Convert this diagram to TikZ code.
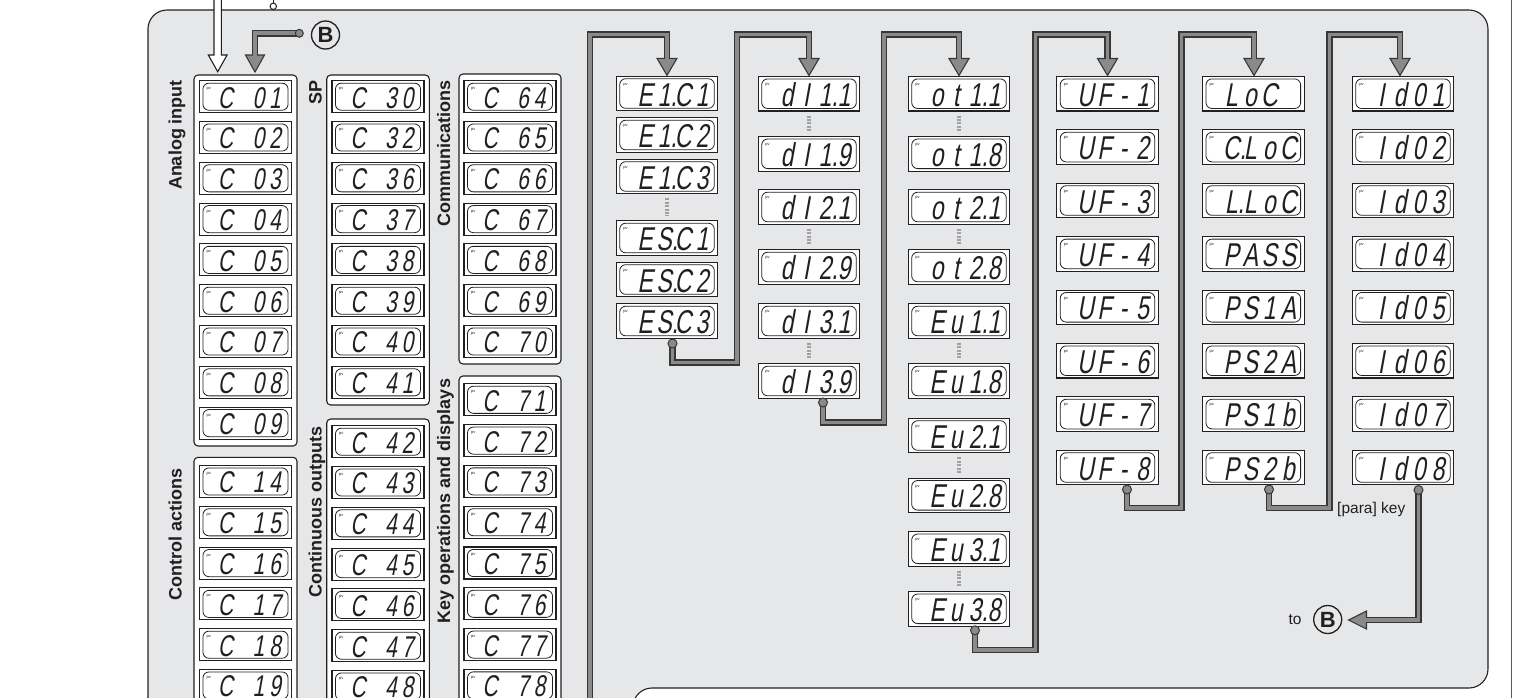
\documentclass[tikz,border=0pt]{standalone}
\usepackage{fontspec}
\setmainfont{Liberation Sans}
\newfontfamily\segfont{Liberation Sans}[FakeSlant=0.18,FakeStretch=0.7]
\definecolor{panel}{RGB}{230,231,232}
\definecolor{ink}{RGB}{35,31,32}
\definecolor{cgray}{RGB}{138,138,138}
\definecolor{cdark}{RGB}{55,55,55}
\definecolor{dotg}{RGB}{160,160,160}
\tikzset{
 outerdisp/.style={draw=ink, line width=1.1pt, fill=white, rectangle, inner sep=0pt},
 innerdisp/.style={draw=ink, line width=0.8pt, rounded corners=6pt},
 pvtext/.style={font=\fontsize{4}{4}\selectfont, inner sep=0pt, text=ink},
 segtext/.style={inner sep=0pt, text=ink},
 grpbox/.style={draw=ink, line width=1.1pt, fill=white, rounded corners=4pt},
 grplabel/.style={font=\bfseries\fontsize{18}{18}\selectfont, rotate=90, anchor=base, inner sep=0pt, text=ink},
 connout/.style={draw=cdark, line width=6.4pt, line join=miter},
 connin/.style={draw=cgray, line width=3.8pt, line join=miter},
 tipst/.style={fill=cgray, draw=cdark, line width=1.1pt, line join=miter},
 startdot/.style={circle, fill=cgray, draw=cdark, line width=1pt, minimum size=9pt, inner sep=0pt},
 ellip/.style={draw=dotg, line width=3.2pt, dash pattern=on 2pt off 1.4pt},
 bcirc/.style={circle, draw=ink, line width=1.3pt, minimum size=28pt, inner sep=0pt, font=\bfseries\fontsize{22}{22}\selectfont, text=ink},
 plaintext/.style={font=\fontsize{15.5}{15.5}\selectfont, inner sep=0pt, text=ink},
}
\newcommand\dispcore[7]{%
 \node[outerdisp, minimum width=\dW, minimum height=\dH] (#1) at (#2,#3) {};
 \draw[innerdisp] ([shift={(4pt,-3pt)}]#1.north west) rectangle ([shift={(-4pt,3pt)}]#1.south east);
 \node[pvtext, anchor=base west] (#1pv) at ([shift={(7.5pt,-9.5pt)}]#1.north west) {pv};
 \node[segtext, anchor=base, font=\segfont\fontsize{\dF}{\dF}\selectfont] (#1t) at ([shift={(\dO,-\dB)}]#1.center) {\makebox[\dP]{#4}\makebox[\dP]{#5}\makebox[\dP]{#6}\makebox[\dP]{#7}};
}
\newcommand\gd{\def\dW{92pt}\def\dH{32pt}\def\dP{16.5pt}\def\dO{4.75pt}\def\dF{30}\def\dB{11.4pt}\dispcore}
\newcommand\rd{\def\dW{101.5pt}\def\dH{34.5pt}\def\dP{19pt}\def\dO{6.5pt}\def\dF{33}\def\dB{12.5pt}\dispcore}
\newcommand\dtip[2]{\draw[tipst] (#1-10,#2-17) -- (#1,#2) -- (#1+10,#2-17) -- cycle;}
\newcommand\gconnt[2]{\draw[connout] #1; #2 \draw[connin] #1;}
\newcommand\dd[1]{#1\rlap{.}}

\begin{document}
\begin{tikzpicture}[x=1pt,y=-1pt]
\useasboundingbox (0,0) rectangle (1521,697);
\clip (0,0) rectangle (1521,697);

% panel
\draw[ink, line width=1.1pt, fill=panel, rounded corners=19pt]
  (148,740) -- (148,10) -- (1488,10) -- (1488,688) -- (633,688) -- (633,740) -- cycle;
\draw[ink!75, line width=1pt] (1511,-2) -- (1511,700);

% incoming arrows at top
\draw[ink, line width=1.1pt, fill=white] (214,-3) -- (214,55) -- (208.3,55) -- (217.7,71.7) -- (227.1,55) -- (221.3,55) -- (221.3,-3);
\draw[ink, line width=1pt] (273.3,-3) -- (273.3,3.1);
\draw[ink, line width=1pt, fill=white] (273.3,6.3) circle (3.2);

% group boxes
\draw[grpbox] (194,75) rectangle (297,446);
\draw[grpbox] (194,457.3) rectangle (297,730);
\draw[grpbox] (326.7,75) rectangle (429.3,405);
\draw[grpbox] (326.7,419) rectangle (429.3,730);
\draw[grpbox] (459,74) rectangle (561,364);
\draw[grpbox] (459,376) rectangle (561,730);

% group labels
\node[grplabel] (lAI) at (181.5,135) {Analog input};
\node[grplabel] (lCA) at (181.5,534) {Control actions};
\node[grplabel] (lSP) at (321.5,92.5) {SP};
\node[grplabel] (lCO) at (321.5,512) {Continuous outputs};
\node[grplabel] (lCM) at (450,153.5) {Communications};
\node[grplabel] (lKO) at (450,501) {Key operations and displays};

% group 1
\gd{c01}{245.5}{96.7}{C}{}{0}{1}
\gd{c02}{245.5}{137.5}{C}{}{0}{2}
\gd{c03}{245.5}{178.3}{C}{}{0}{3}
\gd{c04}{245.5}{219.1}{C}{}{0}{4}
\gd{c05}{245.5}{259.9}{C}{}{0}{5}
\gd{c06}{245.5}{300.7}{C}{}{0}{6}
\gd{c07}{245.5}{341.5}{C}{}{0}{7}
\gd{c08}{245.5}{382.3}{C}{}{0}{8}
\gd{c09}{245.5}{423.1}{C}{}{0}{9}
\gd{c14}{245.5}{481.5}{C}{}{1}{4}
\gd{c15}{245.5}{522.3}{C}{}{1}{5}
\gd{c16}{245.5}{563.1}{C}{}{1}{6}
\gd{c17}{245.5}{603.9}{C}{}{1}{7}
\gd{c18}{245.5}{644.7}{C}{}{1}{8}
\gd{c19}{245.5}{685.5}{C}{}{1}{9}
% group 2
\gd{c30}{378}{96.7}{C}{}{3}{0}
\gd{c32}{378}{137.5}{C}{}{3}{2}
\gd{c36}{378}{178.3}{C}{}{3}{6}
\gd{c37}{378}{219.1}{C}{}{3}{7}
\gd{c38}{378}{259.9}{C}{}{3}{8}
\gd{c39}{378}{300.7}{C}{}{3}{9}
\gd{c40}{378}{341.5}{C}{}{4}{0}
\gd{c41}{378}{382.3}{C}{}{4}{1}
\gd{c42}{378}{441.7}{C}{}{4}{2}
\gd{c43}{378}{482.5}{C}{}{4}{3}
\gd{c44}{378}{523.3}{C}{}{4}{4}
\gd{c45}{378}{564.1}{C}{}{4}{5}
\gd{c46}{378}{604.9}{C}{}{4}{6}
\gd{c47}{378}{645.7}{C}{}{4}{7}
\gd{c48}{378}{686.5}{C}{}{4}{8}
% group 3
\gd{c64}{510}{96.7}{C}{}{6}{4}
\gd{c65}{510}{137.5}{C}{}{6}{5}
\gd{c66}{510}{178.3}{C}{}{6}{6}
\gd{c67}{510}{219.1}{C}{}{6}{7}
\gd{c68}{510}{259.9}{C}{}{6}{8}
\gd{c69}{510}{300.7}{C}{}{6}{9}
\gd{c70}{510}{341.5}{C}{}{7}{0}
\gd{c71}{510}{399.8}{C}{}{7}{1}
\gd{c72}{510}{440.6}{C}{}{7}{2}
\gd{c73}{510}{481.4}{C}{}{7}{3}
\gd{c74}{510}{522.2}{C}{}{7}{4}
\gd{c75}{510}{563}{C}{}{7}{5}
\gd{c76}{510}{603.8}{C}{}{7}{6}
\gd{c77}{510}{644.6}{C}{}{7}{7}
\gd{c78}{510}{685.4}{C}{}{7}{8}

% column A
\rd{e1c1}{667}{93.5}{E}{\dd{1}}{C}{1}
\rd{e1c2}{667}{135}{E}{\dd{1}}{C}{2}
\rd{e1c3}{667}{176.5}{E}{\dd{1}}{C}{3}
\rd{e5c1}{667}{238}{E}{\dd{S}}{C}{1}
\rd{e5c2}{667}{279.5}{E}{\dd{S}}{C}{2}
\rd{e5c3}{667}{321}{E}{\dd{S}}{C}{3}
% column B
\rd{di11}{809}{93.7}{d}{I}{\dd{1}}{1}
\rd{di19}{809}{153.8}{d}{I}{\dd{1}}{9}
\rd{di21}{809}{207}{d}{I}{\dd{2}}{1}
\rd{di29}{809}{267}{d}{I}{\dd{2}}{9}
\rd{di31}{809}{321}{d}{I}{\dd{3}}{1}
\rd{di39}{809}{381}{d}{I}{\dd{3}}{9}
% column C
\rd{ot11}{959}{93.7}{o}{t}{\dd{1}}{1}
\rd{ot18}{959}{153.8}{o}{t}{\dd{1}}{8}
\rd{ot21}{959}{207}{o}{t}{\dd{2}}{1}
\rd{ot28}{959}{267}{o}{t}{\dd{2}}{8}
\rd{eu11}{959}{321}{E}{u}{\dd{1}}{1}
\rd{eu18}{959}{381}{E}{u}{\dd{1}}{8}
\rd{eu21}{959}{435.5}{E}{u}{\dd{2}}{1}
\rd{eu28}{959}{495.3}{E}{u}{\dd{2}}{8}
\rd{eu31}{959}{548.8}{E}{u}{\dd{3}}{1}
\rd{eu38}{959}{608.8}{E}{u}{\dd{3}}{8}
% column D
\rd{uf1}{1107.5}{93.7}{U}{F}{-}{1}
\rd{uf2}{1107.5}{147.1}{U}{F}{-}{2}
\rd{uf3}{1107.5}{200.5}{U}{F}{-}{3}
\rd{uf4}{1107.5}{253.9}{U}{F}{-}{4}
\rd{uf5}{1107.5}{307.3}{U}{F}{-}{5}
\rd{uf6}{1107.5}{360.7}{U}{F}{-}{6}
\rd{uf7}{1107.5}{414.1}{U}{F}{-}{7}
\rd{uf8}{1107.5}{467.5}{U}{F}{-}{8}
% column E
\rd{loc}{1253.3}{93.7}{L}{o}{C}{}
\rd{cloc}{1253.3}{147.1}{\dd{C}}{L}{o}{C}
\rd{lloc}{1253.3}{200.5}{\dd{L}}{L}{o}{C}
\rd{pass}{1253.3}{253.9}{P}{A}{S}{S}
\rd{ps1a}{1253.3}{307.3}{P}{S}{1}{A}
\rd{ps2a}{1253.3}{360.7}{P}{S}{2}{A}
\rd{ps1b}{1253.3}{414.1}{P}{S}{1}{b}
\rd{ps2b}{1253.3}{467.5}{P}{S}{2}{b}
% column F
\rd{id1}{1403}{93.7}{I}{d}{0}{1}
\rd{id2}{1403}{147.1}{I}{d}{0}{2}
\rd{id3}{1403}{200.5}{I}{d}{0}{3}
\rd{id4}{1403}{253.9}{I}{d}{0}{4}
\rd{id5}{1403}{307.3}{I}{d}{0}{5}
\rd{id6}{1403}{360.7}{I}{d}{0}{6}
\rd{id7}{1403}{414.1}{I}{d}{0}{7}
\rd{id8}{1403}{467.5}{I}{d}{0}{8}

% ellipses (skipped entries)
\draw[ellip] ([yshift=-4pt]e1c3.south) -- ([yshift=4pt]e5c1.north);
\draw[ellip] ([yshift=-4pt]di11.south) -- ([yshift=3.5pt]di19.north);
\draw[ellip] ([yshift=-4pt]di21.south) -- ([yshift=3.5pt]di29.north);
\draw[ellip] ([yshift=-4pt]di31.south) -- ([yshift=3.5pt]di39.north);
\draw[ellip] ([yshift=-4pt]ot11.south) -- ([yshift=3.5pt]ot18.north);
\draw[ellip] ([yshift=-4pt]ot21.south) -- ([yshift=3.5pt]ot28.north);
\draw[ellip] ([yshift=-4pt]eu11.south) -- ([yshift=3.5pt]eu18.north);
\draw[ellip] ([yshift=-4pt]eu21.south) -- ([yshift=3.5pt]eu28.north);
\draw[ellip] ([yshift=-4pt]eu31.south) -- ([yshift=3.5pt]eu38.north);

% connector coordinates
\coordinate (k0a) at (590,740); \coordinate (k0b) at (590,34.5);
\coordinate (k0c) at (667,34.5); \coordinate (k0d) at (667,60.8);
\coordinate (s1) at (672.5,343.5); \coordinate (k1a) at (672.5,362.5);
\coordinate (k1b) at (737,362.5); \coordinate (k1c) at (737,34.5);
\coordinate (k1d) at (809,34.5); \coordinate (k1e) at (809,61);
\coordinate (s2) at (823,402.5); \coordinate (k2a) at (823,422.5);
\coordinate (k2b) at (884,422.5); \coordinate (k2c) at (884,34.5);
\coordinate (k2d) at (959,34.5); \coordinate (k2e) at (959,61);
\coordinate (s3) at (975,630.3); \coordinate (k3a) at (975,649.7);
\coordinate (k3b) at (1035.5,649.7); \coordinate (k3c) at (1035.5,34.5);
\coordinate (k3d) at (1107.5,34.5); \coordinate (k3e) at (1107.5,61);
\coordinate (s4) at (1127,489.5); \coordinate (k4a) at (1127,508);
\coordinate (k4b) at (1181.5,508); \coordinate (k4c) at (1181.5,34.5);
\coordinate (k4d) at (1254,34.5); \coordinate (k4e) at (1254,61);
\coordinate (s5) at (1269,489.5); \coordinate (k5a) at (1269,508);
\coordinate (k5b) at (1329.5,508); \coordinate (k5c) at (1329.5,34.5);
\coordinate (k5d) at (1400,34.5); \coordinate (k5e) at (1400,61);
\coordinate (s6) at (1418.5,490); \coordinate (k6a) at (1418.5,620);
\coordinate (k6b) at (1364.5,620);
\coordinate (s7) at (299.3,33.3); \coordinate (k7a) at (255,33.3);
\coordinate (k7b) at (255,57.5);

% connectors
\gconnt{(k0a) -- (k0b) -- (k0c) -- (k0d)}{\dtip{667}{75.3}}
\gconnt{(s1) -- (k1a) -- (k1b) -- (k1c) -- (k1d) -- (k1e)}{\dtip{809}{75.5}}
\gconnt{(s2) -- (k2a) -- (k2b) -- (k2c) -- (k2d) -- (k2e)}{\dtip{959}{75.5}}
\gconnt{(s3) -- (k3a) -- (k3b) -- (k3c) -- (k3d) -- (k3e)}{\dtip{1107.5}{75.5}}
\gconnt{(s4) -- (k4a) -- (k4b) -- (k4c) -- (k4d) -- (k4e)}{\dtip{1254}{75.5}}
\gconnt{(s5) -- (k5a) -- (k5b) -- (k5c) -- (k5d) -- (k5e)}{\dtip{1400}{75.5}}
\gconnt{(s6) -- (k6a) -- (k6b)}{\draw[tipst] (1366.5,611) -- (1348.5,620) -- (1366.5,629) -- cycle;}
\gconnt{(s7) -- (k7a) -- (k7b)}{\draw[tipst] (245.5,55) -- (255,72) -- (264.5,55) -- cycle;}

% start dots
\node[startdot] (d1) at (s1) {};
\node[startdot] (d2) at (s2) {};
\node[startdot] (d3) at (s3) {};
\node[startdot] (d4) at (s4) {};
\node[startdot] (d5) at (s5) {};
\node[startdot] (d6) at (s6) {};
\node[startdot, minimum size=8pt] (d7) at (s7) {};

% labels
\node[bcirc] (bTop) at (325.5,35) {B};
\node[bcirc] (bBot) at (1327.7,619.5) {B};
\node[plaintext, anchor=base] (tolab) at (1295,624.5) {to};
\node[plaintext, anchor=base west] (parakey) at (1337,513) {[para] key};
\end{tikzpicture}
\end{document}
